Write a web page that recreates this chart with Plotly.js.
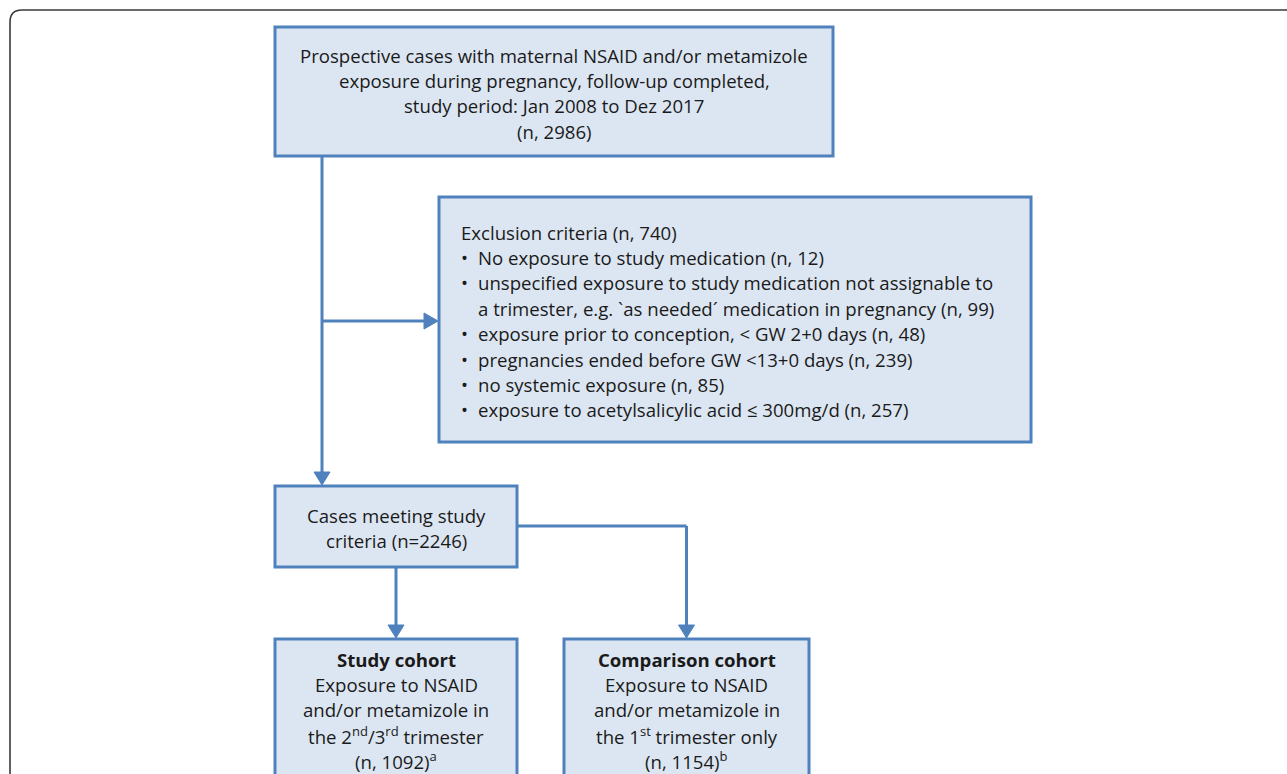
<!DOCTYPE html>
<html>
<head>
<meta charset="utf-8">
<script src="https://cdn.plot.ly/plotly-3.0.1.min.js"></script>
<style>html,body{margin:0;padding:0;background:#fff;}#chart{width:1287px;height:774px;}</style>
</head>
<body>
<div id="chart"></div>
<script>
// ---- data ----
const totalCases = 2986;
const excludedTotal = 740;
const exclusionReasons = [
  "No exposure to study medication",
  "unspecified exposure to study medication not assignable to|a trimester, e.g. `as needed\u00b4 medication in pregnancy",
  "exposure prior to conception, < GW 2+0 days",
  "pregnancies ended before GW <13+0 days",
  "no systemic exposure",
  "exposure to acetylsalicylic acid \u2264 300mg/d"
];
const exclusionCounts = [12, 99, 48, 239, 85, 257];
const meetingCriteria = 2246;
const studyCohort = 1092;
const comparisonCohort = 1154;

// ---- layout geometry (pixels) ----
const W = 1287, H = 774;
const LINE = 25.4;
const FILL = "#dce6f2", EDGE = "#4f81bd", TXT = "#1a1a1a";
const FONT = "Open Sans, sans-serif";
const FS = 18.6;

const boxes = {
  top:   {x0:275, x1:833, y0:27,  y1:156},
  excl:  {x0:439, x1:1031, y0:197, y1:442},
  cases: {x0:275, x1:517, y0:486, y1:567},
  study: {x0:275, x1:517, y0:639, y1:820},
  comp:  {x0:564, x1:809, y0:639, y1:820}
};

const topLines = [
  "Prospective cases with maternal NSAID and/or metamizole",
  "exposure during pregnancy, follow-up completed,",
  "study period: Jan 2008 to Dez 2017",
  "(n, " + totalCases + ")"
];
const casesLines = ["Cases meeting study", "criteria (n=" + meetingCriteria + ")"];
const studyLines = [
  "<b>Study cohort</b>",
  "Exposure to NSAID",
  "and/or metamizole in",
  "the 2<sup>nd</sup>/3<sup>rd</sup> trimester",
  "(n, " + studyCohort + ")<sup>a</sup>"
];
const compLines = [
  "<b>Comparison cohort</b>",
  "Exposure to NSAID",
  "and/or metamizole in",
  "the 1<sup>st</sup> trimester only",
  "(n, " + comparisonCohort + ")<sup>b</sup>"
];

const shapes = [];
const annotations = [];

// outer rounded frame
const r = 12;
shapes.push({type:"path", xref:"x", yref:"y", layer:"below",
  path:`M ${W+20} 10 L ${10+r} 10 Q 10 10 10 ${10+r} L 10 ${H+20}`,
  line:{color:"#3a3a3a", width:1.6}});

Object.values(boxes).forEach(b => {
  shapes.push({type:"rect", xref:"x", yref:"y", x0:b.x0, x1:b.x1, y0:b.y0, y1:b.y1,
    fillcolor:FILL, line:{color:EDGE, width:3}});
});

function seg(x0,y0,x1,y1){
  shapes.push({type:"line", xref:"x", yref:"y", x0, y0, x1, y1, line:{color:EDGE, width:3}});
}
function arrowDown(x, yTip){
  shapes.push({type:"path", xref:"x", yref:"y", path:`M ${x-8} ${yTip-13} L ${x+8} ${yTip-13} L ${x} ${yTip} Z`,
    fillcolor:EDGE, line:{color:EDGE, width:1}});
}
function arrowRight(xTip, y){
  shapes.push({type:"path", xref:"x", yref:"y", path:`M ${xTip-14} ${y-8} L ${xTip-14} ${y+8} L ${xTip} ${y} Z`,
    fillcolor:EDGE, line:{color:EDGE, width:1}});
}

// connectors
const trunkX = 322, branchY = 321;
seg(trunkX, boxes.top.y1, trunkX, boxes.cases.y0 - 12);
arrowDown(trunkX, boxes.cases.y0 - 1);
seg(trunkX, branchY, boxes.excl.x0 - 13, branchY);
arrowRight(boxes.excl.x0 - 1, branchY);
const caseMidX = (boxes.study.x0 + boxes.study.x1)/2;
seg(caseMidX, boxes.cases.y1, caseMidX, boxes.study.y0 - 12);
arrowDown(caseMidX, boxes.study.y0 - 1);
const compMidX = (boxes.comp.x0 + boxes.comp.x1)/2;
const sideY = 526;
seg(boxes.cases.x1, sideY, compMidX, sideY);
seg(compMidX, sideY, compMidX, boxes.comp.y0 - 12);
arrowDown(compMidX, boxes.comp.y0 - 1);

function centered(lines, cx, y0){
  lines.forEach((t,i) => annotations.push({xref:"x", yref:"y", x:cx, y:y0 + i*LINE, text:t,
    showarrow:false, xanchor:"center", yanchor:"middle", font:{family:FONT, size:FS, color:TXT}}));
}
centered(topLines, (boxes.top.x0+boxes.top.x1)/2, 55);
centered(casesLines, caseMidX, 515);
centered(studyLines, caseMidX, 659);
centered(compLines, compMidX, 659);

// exclusion box text
const exX = 459, bulletX = 464, itemX = 476;
let yy = 232;
annotations.push({xref:"x", yref:"y", x:exX, y:yy, text:"Exclusion criteria (n, " + excludedTotal + ")",
  showarrow:false, xanchor:"left", yanchor:"middle", font:{family:FONT, size:FS, color:TXT}});
exclusionReasons.forEach((reason, i) => {
  const parts = reason.split("|");
  parts[parts.length-1] += " (n, " + exclusionCounts[i] + ")";
  yy += LINE;
  annotations.push({xref:"x", yref:"y", x:bulletX, y:yy, text:"\u2022", showarrow:false,
    xanchor:"center", yanchor:"middle", font:{family:FONT, size:FS, color:TXT}});
  parts.forEach((p, j) => {
    if (j > 0) yy += LINE;
    annotations.push({xref:"x", yref:"y", x:itemX, y:yy, text:p, showarrow:false,
      xanchor:"left", yanchor:"middle", font:{family:FONT, size:FS, color:TXT}});
  });
});

const layout = {
  width: W, height: H,
  margin: {l:0, r:0, t:0, b:0},
  paper_bgcolor: "#ffffff", plot_bgcolor: "#ffffff",
  xaxis: {range:[0, W], visible:false, fixedrange:true},
  yaxis: {range:[H, 0], visible:false, fixedrange:true},
  showlegend: false,
  shapes, annotations
};
Plotly.newPlot("chart", [{x:[], y:[], type:"scatter", mode:"markers", hoverinfo:"skip"}], layout,
  {displayModeBar:false, staticPlot:true});
</script>
</body>
</html>
